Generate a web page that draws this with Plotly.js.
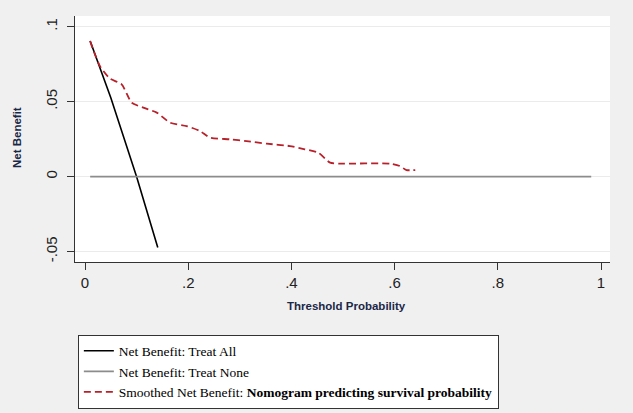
<!DOCTYPE html>
<html>
<head>
<meta charset="utf-8">
<script src="https://cdn.plot.ly/plotly-3.0.1.min.js"></script>
<style>html,body{margin:0;padding:0;background:#f0f0f0;}#chart{width:633px;height:413px;}</style>
</head>
<body>
<div id="chart"></div>
<script>
// Treat All
const treatAllX = [0.01, 0.05, 0.10, 0.141];
const treatAllY = [0.0905, 0.0526, 0.0, -0.0473];
// Treat None
const treatNoneX = [0.01, 0.981];
const treatNoneY = [0, 0];
// Smoothed net benefit: nomogram
const nomoX = [0.0097, 0.029, 0.048, 0.071, 0.0905, 0.113, 0.139, 0.165, 0.197, 0.223, 0.242, 0.281, 0.313, 0.352, 0.397, 0.426, 0.452, 0.475, 0.494, 0.591, 0.610, 0.623, 0.640];
const nomoY = [0.0904, 0.0737, 0.0655, 0.0615, 0.0493, 0.046, 0.0427, 0.036, 0.0337, 0.0304, 0.026, 0.0249, 0.0237, 0.022, 0.0204, 0.0182, 0.016, 0.0093, 0.0087, 0.0087, 0.0071, 0.0044, 0.0044];

const xTickVals = [0, 0.2, 0.4, 0.6, 0.8, 1];
const xTickText = ["0", ".2", ".4", ".6", ".8", "1"];
const yTickVals = [-0.05, 0, 0.05, 0.1];
const yTickText = ["-.05", "0", ".05", ".1"];
const xTitle = 'Threshold Probability';
const yTitle = 'Net Benefit';

const traces = [
  {x: treatAllX, y: treatAllY, mode: 'lines', name: 'Net Benefit: Treat All',
   line: {color: '#000000', width: 1.6}},
  {x: treatNoneX, y: treatNoneY, mode: 'lines', name: 'Net Benefit: Treat None',
   line: {color: '#8c8c8c', width: 1.6}},
  {x: nomoX, y: nomoY, mode: 'lines', name: 'Smoothed Net Benefit: <b>Nomogram predicting survival probability</b>',
   line: {color: '#b8202a', width: 1.8, dash: '7px,4px', shape: 'spline', smoothing: 0.6}}
];

const titleFont = {family: 'Liberation Sans, Arial', size: 11.5, color: '#1b2747'};

const layout = {
  width: 633, height: 413,
  paper_bgcolor: '#f0f0f0', plot_bgcolor: '#ffffff',
  margin: {l: 75, r: 23, t: 16, b: 151, autoexpand: false},
  showlegend: true,
  xaxis: {
    range: [-0.0194, 1.0174], tickvals: xTickVals, ticktext: xTickText,
    showline: true, linecolor: '#333333', linewidth: 1.3,
    ticks: 'outside', ticklen: 7, tickcolor: '#333333',
    showgrid: false, zeroline: false, automargin: false,
    tickfont: {family: 'Liberation Sans, Arial', size: 15, color: '#222222'}
  },
  yaxis: {
    range: [-0.0569, 0.1071], tickvals: yTickVals, ticktext: yTickText,
    tickangle: -90, ticklabelstandoff: 4,
    showline: true, linecolor: '#333333', linewidth: 1.3,
    ticks: 'outside', ticklen: 7, tickcolor: '#333333',
    showgrid: true, gridcolor: '#ebebeb', gridwidth: 1, zeroline: false, automargin: false,
    tickfont: {family: 'Liberation Sans, Arial', size: 15, color: '#222222'}
  },
  annotations: [
    {xref: 'paper', yref: 'paper', x: 0.508, y: -0.179, xanchor: 'center', yanchor: 'middle',
     text: '<b>' + xTitle + '</b>', showarrow: false, font: titleFont},
    {xref: 'paper', yref: 'paper', x: -0.1084, y: 0.504, xanchor: 'center', yanchor: 'middle',
     text: '<b>' + yTitle + '</b>', textangle: -90, showarrow: false, font: titleFont}
  ],
  legend: {
    xref: 'container', yref: 'container',
    x: 0.123, y: 0.19, xanchor: 'left', yanchor: 'top',
    bgcolor: '#ffffff', bordercolor: '#333333', borderwidth: 1,
    font: {family: 'Liberation Serif, Times New Roman', size: 13.5, color: '#000000'},
    itemwidth: 30, tracegroupgap: 0
  }
};

Plotly.newPlot('chart', traces, layout, {displayModeBar: false, staticPlot: true});
</script>
</body>
</html>
